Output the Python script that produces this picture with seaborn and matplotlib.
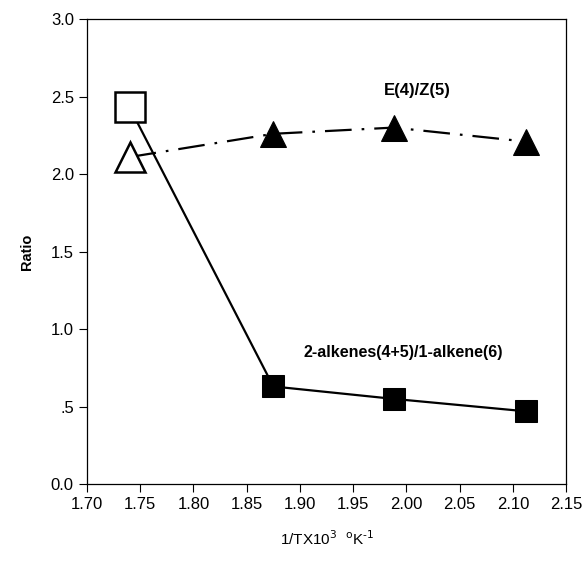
import matplotlib
matplotlib.use("Agg")
import matplotlib.pyplot as plt
import seaborn as sns

# data
x_vals = [1.740, 1.875, 1.988, 2.112]
ratio_alkenes = [2.43, 0.63, 0.55, 0.47]   # 2-alkenes(4+5)/1-alkene(6)
ratio_ez = [2.11, 2.26, 2.30, 2.21]        # E(4)/Z(5)

x_ticks = [1.70, 1.75, 1.80, 1.85, 1.90, 1.95, 2.00, 2.05, 2.10, 2.15]
y_ticks = [0.0, 0.5, 1.0, 1.5, 2.0, 2.5, 3.0]
y_tick_labels = ["0.0", ".5", "1.0", "1.5", "2.0", "2.5", "3.0"]

sns.set_style("ticks")
plt.rcParams['font.family'] = ['Liberation Sans', 'DejaVu Sans']
plt.rcParams['text.color'] = 'black'
plt.rcParams['axes.labelcolor'] = 'black'

fig = plt.figure(figsize=(5.86, 5.61), dpi=100)
ax = fig.add_axes([0.1485, 0.137, 0.8175, 0.829])

# lines
sns.lineplot(x=x_vals, y=ratio_alkenes, color='black', lw=1.6, ax=ax)
sns.lineplot(x=x_vals, y=ratio_ez, color='black', lw=1.6, ax=ax,
             dashes=False, linestyle=(0, (12, 4.5, 1.2, 4.5)))

# filled markers (first point is open)
sns.lineplot(x=x_vals[1:], y=ratio_alkenes[1:], marker='s', markersize=16.5,
             linestyle='none', color='black', mec='black', ax=ax)
sns.lineplot(x=x_vals[1:], y=ratio_ez[1:], marker='^', markersize=19,
             linestyle='none', color='black', mec='black', ax=ax)
sns.lineplot(x=x_vals[:1], y=ratio_alkenes[:1], marker='s', markersize=21,
             linestyle='none', color='black', mfc='white', mec='black', mew=1.8, ax=ax)
sns.lineplot(x=x_vals[:1], y=ratio_ez[:1], marker='^', markersize=21,
             linestyle='none', color='black', mfc='white', mec='black', mew=1.8, ax=ax)

ax.text(2.010, 2.54, "E(4)/Z(5)", fontsize=12, fontweight='bold', ha='center', va='center',
        color='black')
ax.text(1.997, 0.85, "2-alkenes(4+5)/1-alkene(6)", fontsize=11.5, fontweight='bold',
        ha='center', va='center', color='black')

ax.set_xlim(1.70, 2.15)
ax.set_ylim(0.0, 3.0)
ax.set_xticks(x_ticks)
ax.set_xticklabels([f"{t:.2f}" for t in x_ticks])
ax.set_yticks(y_ticks)
ax.set_yticklabels(y_tick_labels)
ax.tick_params(direction='out', length=6, width=0.8, labelsize=12, colors='black')

for s in ax.spines.values():
    s.set_linewidth(0.9)
    s.set_color('black')

ax.set_ylabel("Ratio", fontsize=10.5, fontweight='bold', labelpad=12, color='black')
ax.set_xlabel(r"1/TX10$^3$  $^{\rm o}$K$^{\text{-}1}$", fontsize=11, labelpad=12, color='black')

fig.savefig("out.png", dpi=100)
